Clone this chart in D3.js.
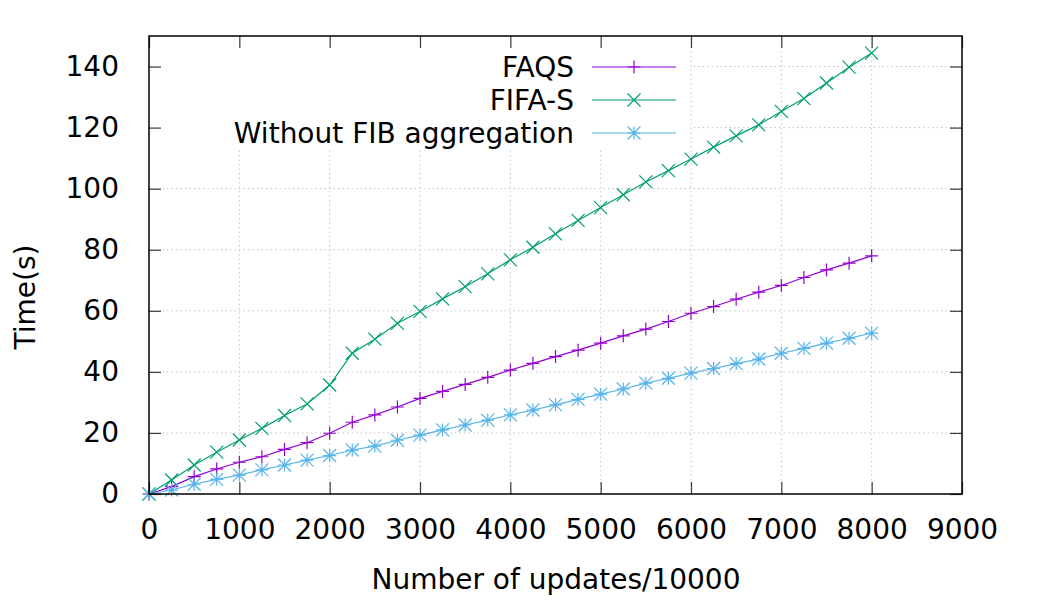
<!DOCTYPE html>
<html>
<head>
<meta charset="utf-8">
<script src="https://cdn.jsdelivr.net/npm/d3@7"></script>
<style>
  html, body { margin: 0; padding: 0; background: #fff; }
  svg { display: block; }
  text { font-family: "DejaVu Sans", sans-serif; fill: #000; }
</style>
</head>
<body>
<svg id="chart" width="1050" height="600"></svg>
<script>
const updates = [0, 250, 500, 750, 1000, 1250, 1500, 1750, 2000, 2250, 2500, 2750, 3000, 3250, 3500, 3750, 4000, 4250, 4500, 4750, 5000, 5250, 5500, 5750, 6000, 6250, 6500, 6750, 7000, 7250, 7500, 7750, 8000];
const faqs = [0, 2.4, 5.7, 8.2, 10.4, 12.2, 14.6, 16.8, 19.9, 23.5, 25.9, 28.5, 31.3, 33.6, 35.9, 38.2, 40.6, 42.8, 45.0, 47.1, 49.4, 51.8, 54.0, 56.5, 59.2, 61.4, 63.8, 66.1, 68.3, 70.9, 73.4, 75.6, 78.0];
const fifaS = [0, 4.6, 9.5, 13.7, 17.7, 21.5, 25.7, 29.5, 35.7, 46.1, 50.7, 55.9, 59.8, 63.9, 67.9, 72.1, 76.7, 80.8, 85.2, 89.6, 93.8, 98.0, 102.2, 105.9, 109.7, 113.6, 117.3, 120.9, 125.3, 129.5, 134.6, 139.8, 144.4];
const withoutFib = [0, 1.3, 3.2, 4.8, 6.2, 7.9, 9.5, 11.1, 12.6, 14.4, 15.7, 17.6, 19.3, 21.0, 22.6, 24.2, 25.9, 27.5, 29.2, 31.0, 32.7, 34.4, 36.3, 37.9, 39.6, 41.1, 42.7, 44.2, 46.1, 47.7, 49.4, 51.0, 52.7];
const seriesNames = ["FAQS", "FIFA-S", "Without FIB aggregation"];
const xTicks = [0, 1000, 2000, 3000, 4000, 5000, 6000, 7000, 8000, 9000];
const yTicks = [0, 20, 40, 60, 80, 100, 120, 140];
const xTitle = "Number of updates/10000";
const yTitle = "Time(s)";

const colors = ["#9400d3", "#009e73", "#56b4e9"];
const markers = ["plus", "cross", "star"];
const seriesData = [faqs, fifaS, withoutFib];

const L = 149, R = 962, T = 36, B = 494;
const FS = 28;
const svg = d3.select("#chart");
const x = d3.scaleLinear().domain([0, 9000]).range([L, R]);
const y = d3.scaleLinear().domain([0, 150]).range([B, T]);

// grid
const grid = svg.append("g");
grid.selectAll(".gx").data(xTicks.filter(d => d > 0 && d < 9000)).join("line")
  .attr("x1", d => x(d)).attr("x2", d => x(d)).attr("y1", B).attr("y2", T)
  .attr("stroke", "#c4c4c4").attr("stroke-width", 1).attr("stroke-dasharray", "1.5,3");
grid.selectAll(".gy").data(yTicks.filter(d => d > 0)).join("line")
  .attr("x1", L).attr("x2", R).attr("y1", d => y(d)).attr("y2", d => y(d))
  .attr("stroke", "#c4c4c4").attr("stroke-width", 1).attr("stroke-dasharray", "1.5,3");

// legend background (opaque key)
svg.append("rect").attr("x", L + 1).attr("y", T + 1).attr("width", 689 - L).attr("height", 147 - T).attr("fill", "#fff");

function markerPath(type, s) {
  if (type === "plus") return `M${-s},0H${s}M0,${-s}V${s}`;
  if (type === "cross") return `M${-s},${-s}L${s},${s}M${-s},${s}L${s},${-s}`;
  return `M${-s},0H${s}M0,${-s}V${s}M${-s},${-s}L${s},${s}M${-s},${s}L${s},${-s}`;
}

const line = d3.line().x(d => x(d[0])).y(d => y(d[1]));
seriesData.forEach((vals, i) => {
  const pts = updates.map((u, k) => [u, vals[k]]);
  const g = svg.append("g");
  g.append("path").datum(pts).attr("d", line).attr("fill", "none")
    .attr("stroke", colors[i]).attr("stroke-width", 1.2);
  g.selectAll("path.m").data(pts).join("path").attr("class", "m")
    .attr("transform", d => `translate(${x(d[0])},${y(d[1])})`)
    .attr("d", markerPath(markers[i], 6.5)).attr("fill", "none")
    .attr("stroke", colors[i]).attr("stroke-width", 1.2);
});

// axes with inward ticks (mirrored)
const tickLen = 12;
const axB = svg.append("g").attr("transform", `translate(0,${B})`)
  .call(d3.axisBottom(x).tickValues(xTicks).tickSize(-tickLen).tickPadding(tickLen + 14).tickFormat(d3.format("d")));
const axT = svg.append("g").attr("transform", `translate(0,${T})`)
  .call(d3.axisTop(x).tickValues(xTicks).tickSize(-tickLen).tickFormat(""));
const axL = svg.append("g").attr("transform", `translate(${L},0)`)
  .call(d3.axisLeft(y).tickValues(yTicks).tickSize(-tickLen).tickPadding(tickLen + 18).tickFormat(d3.format("d")));
const axR = svg.append("g").attr("transform", `translate(${R},0)`)
  .call(d3.axisRight(y).tickValues(yTicks).tickSize(-tickLen).tickFormat(""));
[axB, axT, axL, axR].forEach(a => {
  a.select(".domain").remove();
  a.selectAll(".tick line").attr("stroke", "#3a3a3a").attr("stroke-width", 1.2);
  a.selectAll("text").attr("font-family", "DejaVu Sans").attr("font-size", FS).attr("fill", "#000");
});
axB.selectAll("text").attr("dy", "0.35em").attr("y", 35);

// border
svg.append("rect").attr("x", L).attr("y", T).attr("width", R - L).attr("height", B - T)
  .attr("fill", "none").attr("stroke", "#000").attr("stroke-width", 1.5);

// titles
svg.append("text").attr("x", 556).attr("y", 579).attr("dy", "0.35em").attr("text-anchor", "middle")
  .attr("font-size", FS).text(xTitle);
svg.append("text").attr("transform", "translate(25,297) rotate(-90)").attr("dy", "0.35em")
  .attr("text-anchor", "middle").attr("font-size", FS).text(yTitle);

// legend
const legRows = [67, 100, 133];
seriesNames.forEach((name, i) => {
  const g = svg.append("g");
  g.append("text").attr("x", 574).attr("y", legRows[i]).attr("dy", "0.35em")
    .attr("text-anchor", "end").attr("font-size", FS).text(name);
  g.append("line").attr("x1", 592).attr("x2", 676).attr("y1", legRows[i]).attr("y2", legRows[i])
    .attr("stroke", colors[i]).attr("stroke-width", 1.2);
  g.append("path").attr("transform", `translate(634,${legRows[i]})`)
    .attr("d", markerPath(markers[i], 6.5)).attr("fill", "none")
    .attr("stroke", colors[i]).attr("stroke-width", 1.2);
});
</script>
</body>
</html>
